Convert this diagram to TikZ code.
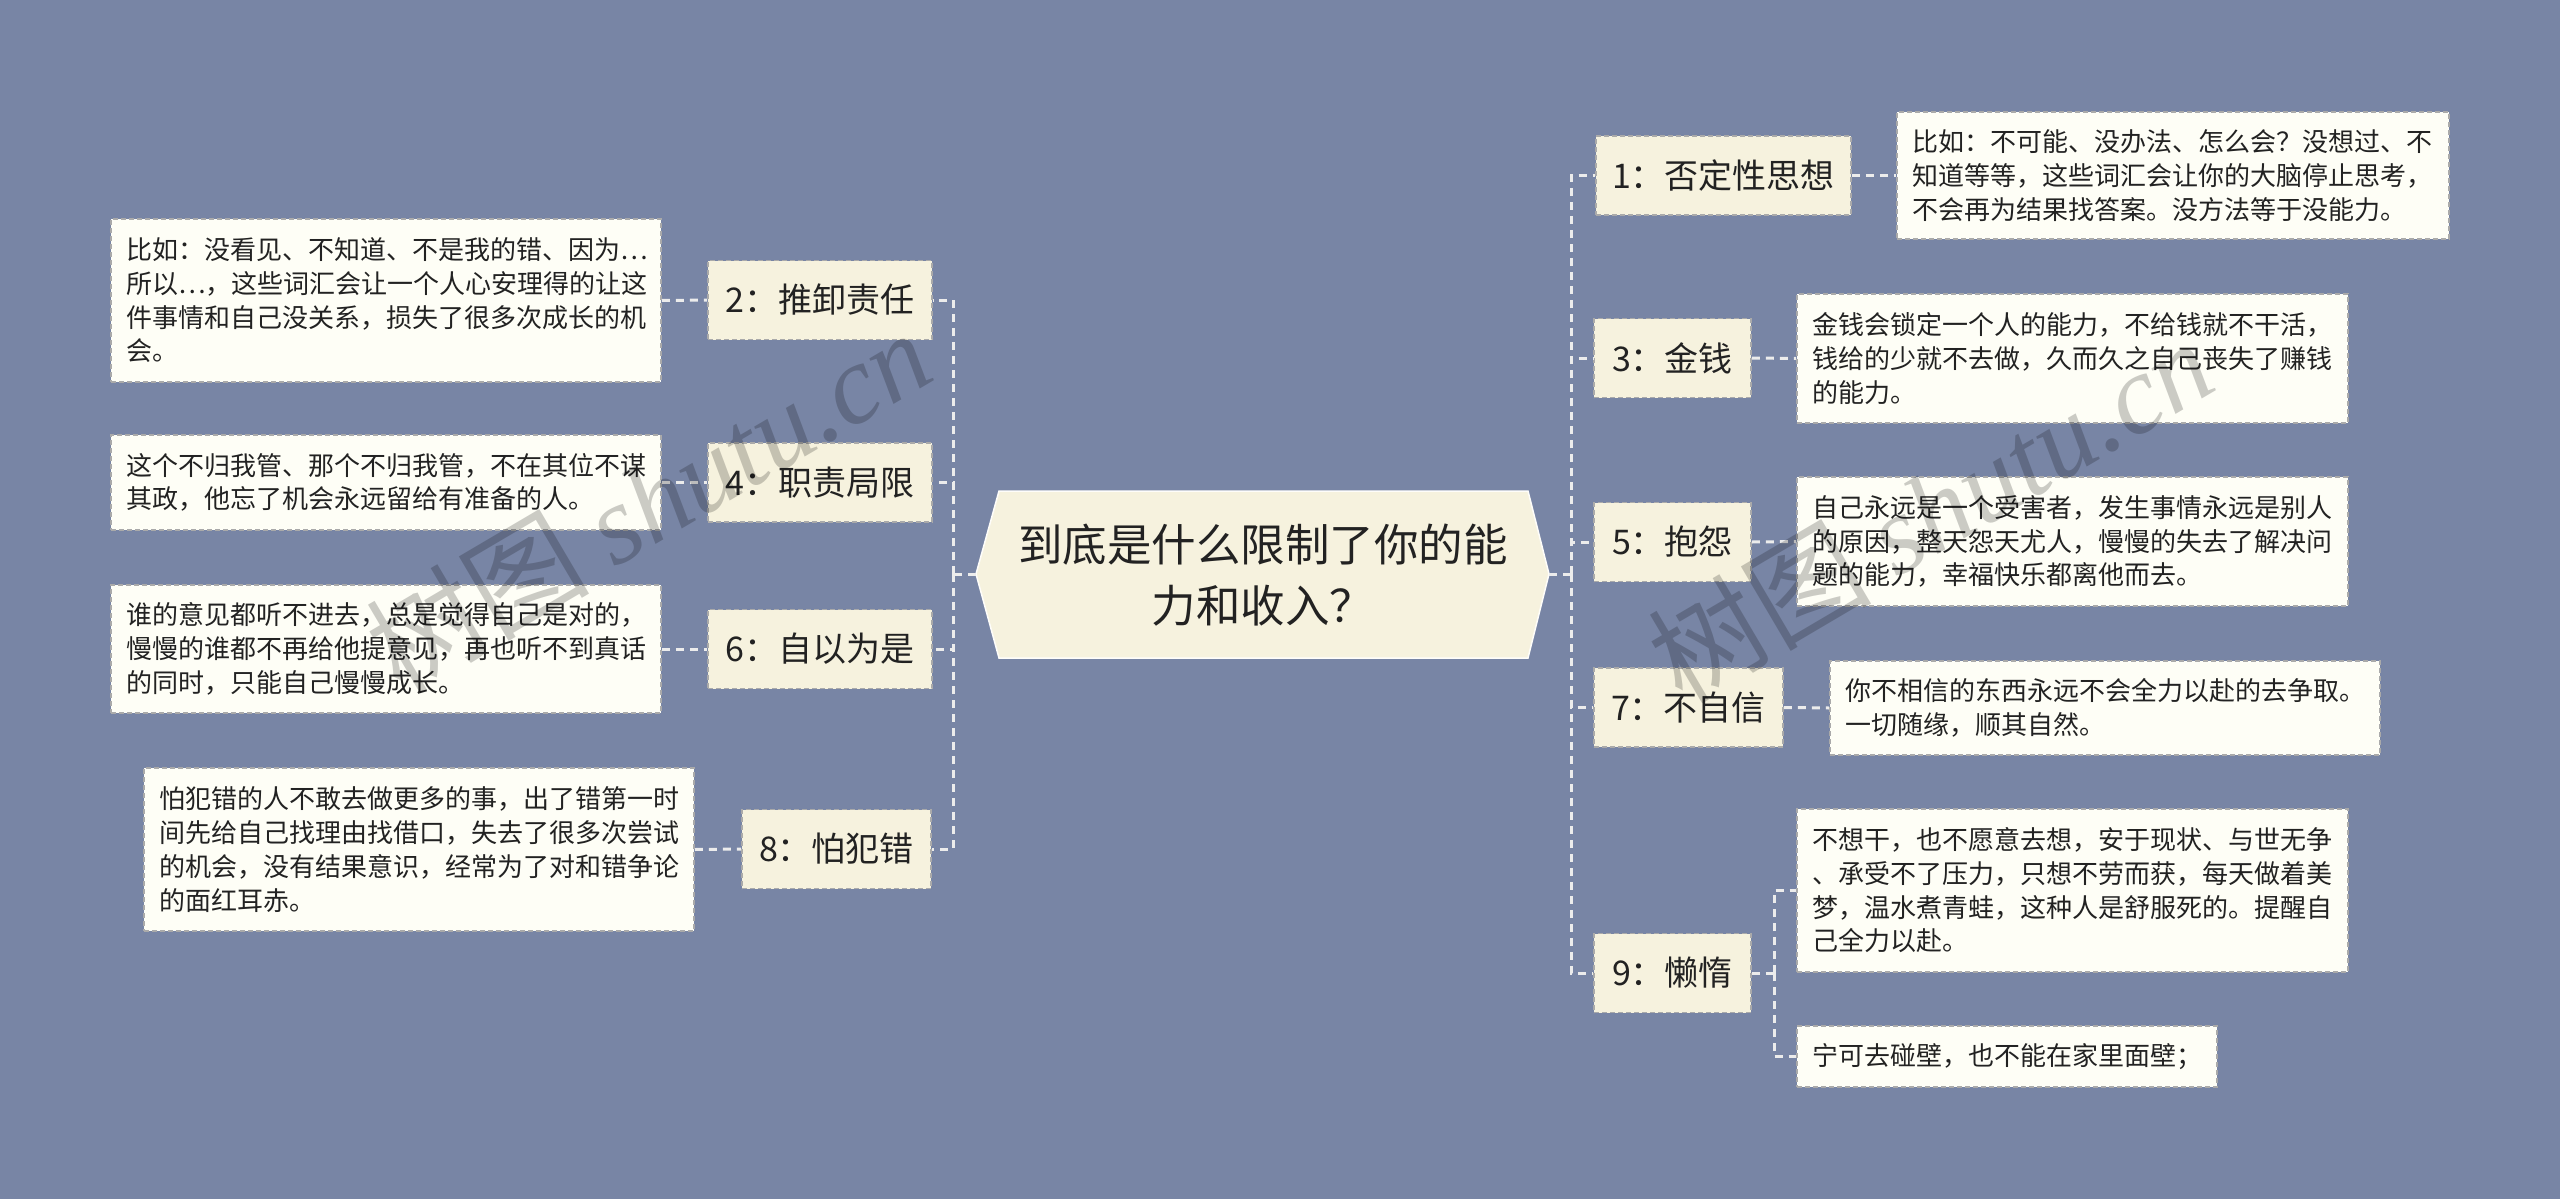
\documentclass[tikz,border=0pt]{standalone}
\usepackage{fontspec}
\setmainfont{Noto Sans CJK SC}
\newfontfamily\wmlatin{Liberation Serif}
\usetikzlibrary{calc}
\definecolor{bgc}{RGB}{120,133,165}
\definecolor{lvfill}{RGB}{246,242,222}
\definecolor{txfill}{RGB}{254,254,246}
\definecolor{bordc}{RGB}{170,170,170}
\definecolor{linec}{RGB}{236,236,236}
\definecolor{inkc}{RGB}{34,34,34}
\tikzset{
  lvbox/.style={draw=bordc, fill=lvfill, line width=1.6pt, dash pattern=on 5pt off 3pt,
    text=inkc, font=\fontsize{34}{40}\selectfont, inner xsep=0pt, inner ysep=0pt,
    minimum height=79pt, anchor=center},
  txbox/.style={draw=bordc, fill=txfill, line width=1.6pt, dash pattern=on 5pt off 3pt,
    text=inkc, font=\fontsize{26}{33.7}\selectfont, align=left, inner xsep=15pt, inner ysep=0pt,
    anchor=center},
  conn/.style={draw=linec, line width=3pt, dash pattern=on 8pt off 6pt},
  wmark/.style={rotate=30.5, text=black, opacity=0.2, inner sep=0pt}
}
\begin{document}
\begin{tikzpicture}[x=1pt,y=-1pt]
\useasboundingbox (0,0) rectangle (2560,1199);
\fill[bgc] (0,0) rectangle (2560,1199);

% center hexagon
\coordinate (cL) at (976,574);
\coordinate (cR) at (1549,574);
\fill[lvfill, draw=white!85!lvfill, line width=1.5pt] (cL) -- (999,491) -- (1528,491) -- (cR) -- (1528,658) -- (999,658) -- cycle;
\node[text=inkc, font=\fontsize{44.5}{61}\selectfont, align=center, inner sep=0pt] (c) at (1263,575) {到底是什么限制了你的能\\力和收入？};

% level-1 nodes
\node[lvbox, minimum width=255pt] (n1) at (1723.5,175.5) {1：否定性思想};
\node[lvbox, minimum width=224pt] (n2) at (820,300) {2：推卸责任};
\node[lvbox, minimum width=157pt] (n3) at (1672.5,358) {3：金钱};
\node[lvbox, minimum width=224pt] (n4) at (820,482.5) {4：职责局限};
\node[lvbox, minimum width=157pt] (n5) at (1672.5,542) {5：抱怨};
\node[lvbox, minimum width=224pt] (n6) at (820,649) {6：自以为是};
\node[lvbox, minimum width=189pt] (n7) at (1688.5,707.5) {7：不自信};
\node[lvbox, minimum width=189pt] (n8) at (836.5,849) {8：怕犯错};
\node[lvbox, minimum width=157pt] (n9) at (1672.5,973) {9：懒惰};

% text boxes
\node[txbox, text width=522pt, minimum height=127pt] (t1) at (2173,175.5) {比如：不可能、没办法、怎么会？没想过、不\\知道等等，这些词汇会让你的大脑停止思考，\\不会再为结果找答案。没方法等于没能力。};
\node[txbox, text width=520pt, minimum height=163pt] (t2) at (386,300.5) {比如：没看见、不知道、不是我的错、因为…\\所以…，这些词汇会让一个人心安理得的让这\\件事情和自己没关系，损失了很多次成长的机\\会。};
\node[txbox, text width=521pt, minimum height=129pt] (t3) at (2072.5,358.5) {金钱会锁定一个人的能力，不给钱就不干活，\\钱给的少就不去做，久而久之自己丧失了赚钱\\的能力。};
\node[txbox, text width=520pt, minimum height=95pt] (t4) at (386,482.5) {这个不归我管、那个不归我管，不在其位不谋\\其政，他忘了机会永远留给有准备的人。};
\node[txbox, text width=521pt, minimum height=129pt] (t5) at (2072.5,541.5) {自己永远是一个受害者，发生事情永远是别人\\的原因，整天怨天尤人，慢慢的失去了解决问\\题的能力，幸福快乐都离他而去。};
\node[txbox, text width=520pt, minimum height=128pt] (t6) at (386,649) {谁的意见都听不进去，总是觉得自己是对的，\\慢慢的谁都不再给他提意见，再也听不到真话\\的同时，只能自己慢慢成长。};
\node[txbox, text width=520pt, minimum height=94pt] (t7) at (2105,708) {你不相信的东西永远不会全力以赴的去争取。\\一切随缘，顺其自然。};
\node[txbox, text width=520pt, minimum height=163pt] (t8) at (419,849.5) {怕犯错的人不敢去做更多的事，出了错第一时\\间先给自己找理由找借口，失去了很多次尝试\\的机会，没有结果意识，经常为了对和错争论\\的面红耳赤。};
\node[txbox, text width=521pt, minimum height=163pt] (t9a) at (2072.5,890.5) {不想干，也不愿意去想，安于现状、与世无争\\、承受不了压力，只想不劳而获，每天做着美\\梦，温水煮青蛙，这种人是舒服死的。提醒自\\己全力以赴。};
\node[txbox, text width=390pt, minimum height=61pt] (t9b) at (2007,1056.5) {宁可去碰壁，也不能在家里面壁；};

% spines
\coordinate (L) at (953,574);
\coordinate (R) at (1571,574);
\coordinate (S9) at (1774,973);

% connectors
\draw[conn] (cL) -- (L);
\draw[conn] (cR) -- (R);
\foreach \n in {n2,n4,n6,n8} { \draw[conn] (L) |- (\n.east); }
\foreach \n in {n1,n3,n5,n7,n9} { \draw[conn] (R) |- (\n.west); }
\draw[conn] (t2.east) -- (n2.west);
\draw[conn] (t4.east) -- (n4.west);
\draw[conn] (t6.east) -- (n6.west);
\draw[conn] (t8.east) -- (n8.west);
\draw[conn] (n1.east) -- (t1.west);
\draw[conn] (n3.east) -- (t3.west);
\draw[conn] (n5.east) -- (t5.west);
\draw[conn] (n7.east) -- (t7.west);
\draw[conn] (n9.east) -- (S9);
\draw[conn] (S9) |- (t9a.west);
\draw[conn] (S9) |- (t9b.west);

% watermarks
\node[wmark] (w1) at (648,500) {\fontsize{112}{112}\selectfont 树图 {\wmlatin\itshape shutu.cn}};
\node[wmark] (w2) at (1930,510) {\fontsize{112}{112}\selectfont 树图 {\wmlatin\itshape shutu.cn}};
\end{tikzpicture}
\end{document}
